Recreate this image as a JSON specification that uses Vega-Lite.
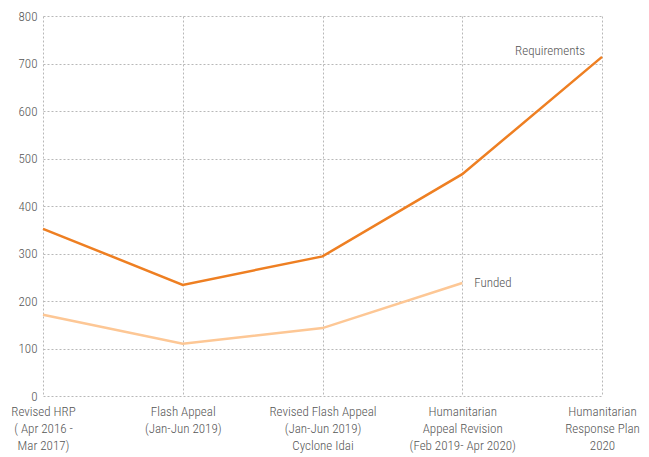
{
  "$schema": "https://vega.github.io/schema/vega-lite/v6.json",
  "autosize": "none",
  "width": 559,
  "height": 380,
  "padding": {"left": 43, "top": 16, "right": 47, "bottom": 61},
  "background": "white",
  "config": {
    "view": {"stroke": null},
    "font": "Roboto Condensed, Roboto, sans-serif",
    "axis": {
      "gridColor": "#b8b8b8",
      "gridDash": [2, 2],
      "gridWidth": 1,
      "domain": false,
      "ticks": false,
      "labelColor": "#555555",
      "labelFontSize": 13,
      "labelFontWeight": 300,
      "labelFont": "Roboto Condensed, Roboto, sans-serif",
      "title": null
    }
  },
  "data": {
    "values": [
      {"stage": "Revised HRP|( Apr 2016 -|Mar 2017)", "series": "Requirements", "value": 352, "label": null},
      {"stage": "Flash Appeal|(Jan-Jun 2019)", "series": "Requirements", "value": 234, "label": null},
      {"stage": "Revised Flash Appeal|(Jan-Jun 2019)|Cyclone Idai", "series": "Requirements", "value": 294, "label": null},
      {"stage": "Humanitarian|Appeal Revision|(Feb 2019- Apr 2020)", "series": "Requirements", "value": 467, "label": null},
      {"stage": "Humanitarian|Response Plan|2020", "series": "Requirements", "value": 714, "label": "Requirements"},
      {"stage": "Revised HRP|( Apr 2016 -|Mar 2017)", "series": "Funded", "value": 171, "label": null},
      {"stage": "Flash Appeal|(Jan-Jun 2019)", "series": "Funded", "value": 110, "label": null},
      {"stage": "Revised Flash Appeal|(Jan-Jun 2019)|Cyclone Idai", "series": "Funded", "value": 143, "label": null},
      {"stage": "Humanitarian|Appeal Revision|(Feb 2019- Apr 2020)", "series": "Funded", "value": 238, "label": "Funded"}
    ]
  },
  "encoding": {
    "x": {
      "field": "stage",
      "type": "ordinal",
      "sort": null,
      "scale": {"type": "point", "padding": 0},
      "axis": {
        "labelExpr": "split(datum.label, '|')",
        "labelAngle": 0,
        "labelPadding": 9,
        "labelLineHeight": 17,
        "labelBaseline": "top",
        "labelAlign": "center",
        "grid": true
      }
    },
    "y": {
      "field": "value",
      "type": "quantitative",
      "scale": {"domain": [0, 800]},
      "axis": {"values": [0, 100, 200, 300, 400, 500, 600, 700, 800], "labelPadding": 6, "grid": true}
    }
  },
  "layer": [
    {
      "mark": {"type": "line", "strokeWidth": 2.5},
      "encoding": {
        "color": {
          "field": "series",
          "type": "nominal",
          "scale": {"domain": ["Requirements", "Funded"], "range": ["#ee7f22", "#fdc795"]},
          "legend": null
        }
      }
    },
    {
      "transform": [{"filter": "datum.label == 'Requirements'"}],
      "mark": {"type": "text", "align": "right", "dx": -17, "dy": -6, "fontSize": 13, "fontWeight": 300, "color": "#555555"},
      "encoding": {"text": {"field": "label", "type": "nominal"}}
    },
    {
      "transform": [{"filter": "datum.label == 'Funded'"}],
      "mark": {"type": "text", "align": "left", "dx": 12, "dy": 0, "fontSize": 13, "fontWeight": 300, "color": "#555555"},
      "encoding": {"text": {"field": "label", "type": "nominal"}}
    }
  ]
}
